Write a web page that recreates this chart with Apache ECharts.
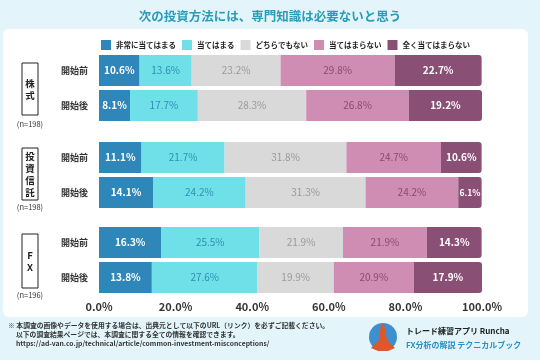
<!DOCTYPE html>
<html><head><meta charset="utf-8">
<script src="https://cdn.jsdelivr.net/npm/echarts@6/dist/echarts.min.js"></script>
<style>html,body{margin:0;padding:0;background:#e3f5fa}#c{width:540px;height:360px}</style>
</head><body><div id="c"></div>
<script>
const titleText = '次の投資方法には、専門知識は必要ないと思う';
const seriesNames = ['非常に当てはまる','当てはまる','どちらでもない','当てはまらない','全く当てはまらない'];
const categories = ['開始前','開始後'];
const groups = ['株式','投資信託','FX'];
const groupVertical = ['株\n式','投\n資\n信\n託','F\nX'];
const groupN = ['(n=198)','(n=198)','(n=196)'];
// rows: 株式 前/後, 投資信託 前/後, FX 前/後
const verySo = [10.6, 8.1, 11.1, 14.1, 16.3, 13.8];
const so = [13.6, 17.7, 21.7, 24.2, 25.5, 27.6];
const neither = [23.2, 28.3, 31.8, 31.3, 21.9, 19.9];
const notSo = [29.8, 26.8, 24.7, 24.2, 21.9, 20.9];
const notAtAll = [22.7, 19.2, 10.6, 6.1, 14.3, 17.9];
const xTicks = [0, 20, 40, 60, 80, 100];

const colors = ['#2f87b9','#6fe0e8','#d9d9d9','#d08db3','#8a4f75'];
const labelColors = ['#ffffff','#2f8fb0','#9a9a9a','#8a4a72','#ffffff'];
const allSeries = [verySo, so, neither, notSo, notAtAll];
const font = '"Noto Sans CJK JP", sans-serif';

const gridTops = [53, 140, 225];
const grids = gridTops.map(t => ({left: 99, right: 58, top: t, height: 70}));
const xAxes = gridTops.map((t, i) => ({
  gridIndex: i, type: 'value', min: xTicks[0], max: xTicks[xTicks.length - 1], interval: 20,
  axisLine: {show: false}, axisTick: {show: false}, splitLine: {show: false},
  axisLabel: {show: i === 2, formatter: v => v.toFixed(1) + '%', fontSize: 11, fontWeight: 'bold', color: '#333', fontFamily: font, margin: 6}
}));
const yAxes = gridTops.map((t, i) => ({
  gridIndex: i, type: 'category', inverse: true, data: categories,
  axisLine: {show: false}, axisTick: {show: false},
  axisLabel: {fontSize: 9, fontWeight: 'bold', color: '#333', fontFamily: font, margin: 11}
}));

const series = [];
groups.forEach((g, gi) => {
  allSeries.forEach((arr, si) => {
    series.push({
      name: seriesNames[si], type: 'bar', stack: 'g' + gi,
      xAxisIndex: gi, yAxisIndex: gi, barWidth: 31,
      data: arr.slice(gi * 2, gi * 2 + 2).map(v => ({
        value: v,
        label: v < 8 ? {fontSize: 8.5} : undefined
      })),
      itemStyle: {color: colors[si], borderRadius: si === 4 ? [0, 3, 3, 0] : 0},
      label: {show: true, position: 'inside', formatter: p => p.value.toFixed(1) + '%',
        color: labelColors[si], fontSize: 10, fontWeight: (si === 0 || si === 4) ? 'bold' : 'normal', fontFamily: font}
    });
  });
});

const boxes = [[63, 115, 124], [148, 200, 207], [234, 288, 295]];
const graphics = [
  {type: 'rect', shape: {x: 3, y: 29, width: 525, height: 288, r: 6}, style: {fill: '#ffffff'}, z: -10},
  {type: 'text', x: 270, y: 16, style: {text: titleText, fill: '#2a9cb8', font: 'bold 12.5px ' + font, textAlign: 'center', textVerticalAlign: 'middle'}}
];
boxes.forEach((b, i) => {
  graphics.push({type: 'rect', shape: {x: 22, y: b[0], width: 16, height: b[1] - b[0]}, style: {fill: '#fff', stroke: '#222', lineWidth: 1}});
  graphics.push({type: 'text', x: 30, y: (b[0] + b[1]) / 2, style: {text: groupVertical[i], fill: '#222', font: 'bold 9.5px ' + font, textAlign: 'center', textVerticalAlign: 'middle', lineHeight: 12}});
  graphics.push({type: 'text', x: 30, y: b[2], style: {text: groupN[i], fill: '#333', font: '7.5px ' + font, textAlign: 'center', textVerticalAlign: 'middle'}});
});
graphics.push(
  {type: 'text', x: 8, y: 325, style: {text: '※ 本調査の画像やデータを使用する場合は、出典元として以下のURL（リンク）を必ずご記載ください。', fill: '#333', font: 'bold 6.8px ' + font, textVerticalAlign: 'middle'}},
  {type: 'text', x: 16, y: 334, style: {text: '以下の調査結果ページでは、本調査に関する全ての情報を確認できます。', fill: '#333', font: 'bold 6.8px ' + font, textVerticalAlign: 'middle'}},
  {type: 'text', x: 16, y: 343, style: {text: 'https://ad-van.co.jp/technical/article/common-investment-misconceptions/', fill: '#333', font: 'bold 6.8px ' + font, textVerticalAlign: 'middle'}},
  {type: 'circle', shape: {cx: 383, cy: 337, r: 14}, style: {fill: '#3d8fd0'}},
  {type: 'polygon', shape: {points: [[381, 324], [384, 324], [387, 340], [395, 348], [388, 351], [378, 351], [371, 348], [379, 340]]}, style: {fill: '#e0582a'}},
  {type: 'text', x: 406, y: 331, style: {text: 'トレード練習アプリ Runcha', fill: '#222', font: 'bold 8px ' + font, textVerticalAlign: 'middle'}},
  {type: 'text', x: 406, y: 345, style: {text: 'FX分析の解説 テクニカルブック', fill: '#2a8fc8', font: 'bold 8px ' + font, textVerticalAlign: 'middle'}}
);

const chart = echarts.init(document.getElementById('c'));
chart.setOption({
  backgroundColor: '#e3f5fa',
  animation: false,
  legend: {
    data: seriesNames, top: 35, left: 96, width: 440, itemWidth: 10, itemHeight: 10, itemGap: 6,
    icon: 'rect', textStyle: {fontSize: 7.5, fontWeight: 'bold', color: '#222', fontFamily: font}
  },
  grid: grids, xAxis: xAxes, yAxis: yAxes, series: series, graphic: graphics
});
</script></body></html>
